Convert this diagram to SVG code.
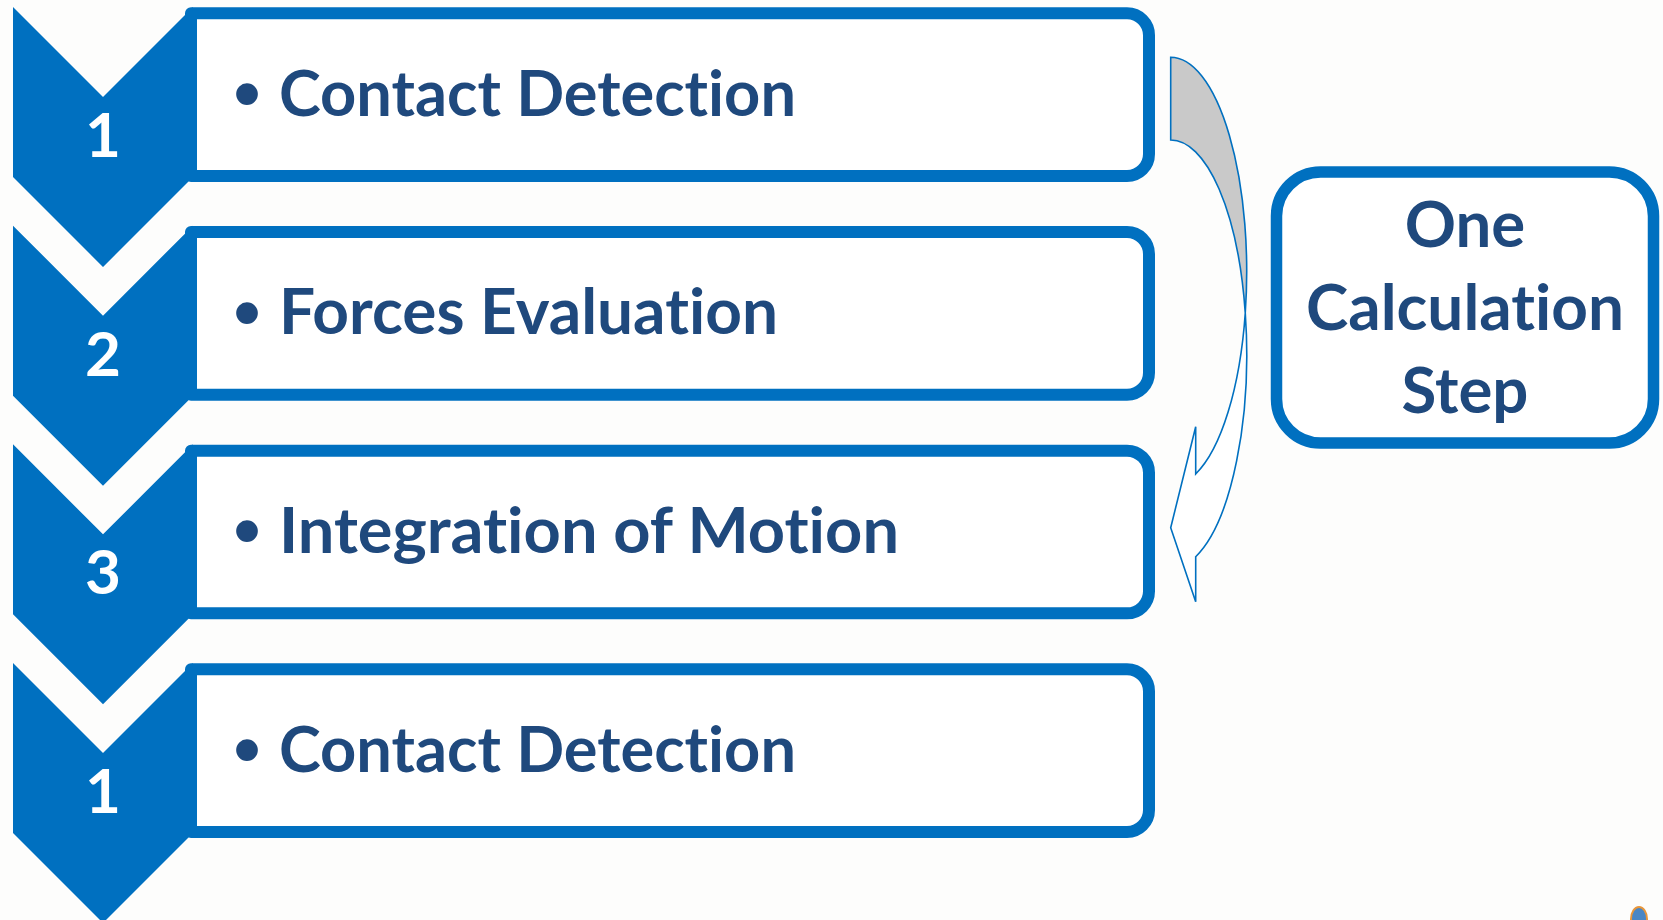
<svg xmlns="http://www.w3.org/2000/svg" width="1663" height="920" viewBox="0 0 1663 920">
<style>
.bg{fill:#FDFDFC}
.chev{fill:#0070C0}
.box{fill:#FFFFFF;stroke:#0070C0;stroke-width:12;stroke-linejoin:round}
.lbl{font-family:Lato,"Open Sans","Liberation Sans",sans-serif;font-weight:bold;font-size:63.5px;fill:#1F497D;font-variant-ligatures:none}
.num{font-family:Lato,"Open Sans","Liberation Sans",sans-serif;font-weight:bold;font-size:62px;fill:#FFFFFF;text-anchor:middle}
.bul{font-family:"Liberation Sans",Arial,sans-serif;font-size:80px;fill:#1F497D;text-anchor:middle}
.side{font-family:Lato,"Open Sans","Liberation Sans",sans-serif;font-weight:bold;font-size:63.5px;fill:#1F497D;text-anchor:middle;font-variant-ligatures:none}
.arrow{stroke:#0070C0;stroke-width:1.6;stroke-linejoin:miter}
</style>
<defs>
<path id="boxShape" d="M191,13.3 H1127 A22,22 0 0 1 1149,35.3 V154 A22,22 0 0 1 1127,176 H191 Z"/>
<path id="chevShape" d="M13,7 L103,97 L193,7 V177 L103,267 L13,177 Z"/>
</defs>
<rect class="bg" x="0" y="0" width="1663" height="920"/>

<g id="step1">
<use href="#boxShape" class="box"/>
<use href="#chevShape" class="chev"/>
<text class="num" x="103" y="157">1</text>
<text class="bul" x="247" y="121">•</text>
<text class="lbl" x="279" y="115.5" textLength="517" lengthAdjust="spacingAndGlyphs">Contact Detection</text>
</g>

<g id="step2" transform="translate(0,218.67)">
<use href="#boxShape" class="box"/>
<use href="#chevShape" class="chev"/>
<text class="num" x="103" y="157">2</text>
<text class="bul" x="247" y="121">•</text>
<text class="lbl" x="279" y="115.5" textLength="499" lengthAdjust="spacingAndGlyphs">Forces Evaluation</text>
</g>

<g id="step3" transform="translate(0,437.33)">
<use href="#boxShape" class="box"/>
<use href="#chevShape" class="chev"/>
<text class="num" x="103" y="157">3</text>
<text class="bul" x="247" y="121">•</text>
<text class="lbl" x="279" y="115.5" textLength="620" lengthAdjust="spacingAndGlyphs">Integration of Motion</text>
</g>

<g id="step4" transform="translate(0,656)">
<use href="#boxShape" class="box"/>
<use href="#chevShape" class="chev"/>
<text class="num" x="103" y="157">1</text>
<text class="bul" x="247" y="121">•</text>
<text class="lbl" x="279" y="115.5" textLength="517" lengthAdjust="spacingAndGlyphs">Contact Detection</text>
</g>

<g id="calcStep">
<rect x="1276.5" y="172" width="377" height="271" rx="44" ry="44" class="box" style="stroke-width:11.5"/>
<text class="side" x="1465" y="247">One</text>
<text class="side" x="1465" y="330" textLength="318" lengthAdjust="spacingAndGlyphs">Calculation</text>
<text class="side" x="1465" y="413">Step</text>
</g>

<g id="connectors">
<path class="arrow" fill="#C9C9C9" d="M1170.7,57.3 A76,214.3 0 0 1 1245.27,312.95 A76,214.3 0 0 0 1170.7,140 Z"/>
<path class="arrow" fill="#FFFFFF" d="M1245.27,312.95 A76,214.3 0 0 1 1195.7,474 L1195.7,426.7 L1170.7,527.7 L1195.7,601.7 L1195.7,556.7 A76,214.3 0 0 0 1245.27,312.95 Z"/>
</g>

<g id="cornerIcon">
<ellipse cx="1639" cy="919" rx="8" ry="12" fill="#4A86C5" stroke="#E8963A" stroke-width="2"/>
</g>
</svg>
